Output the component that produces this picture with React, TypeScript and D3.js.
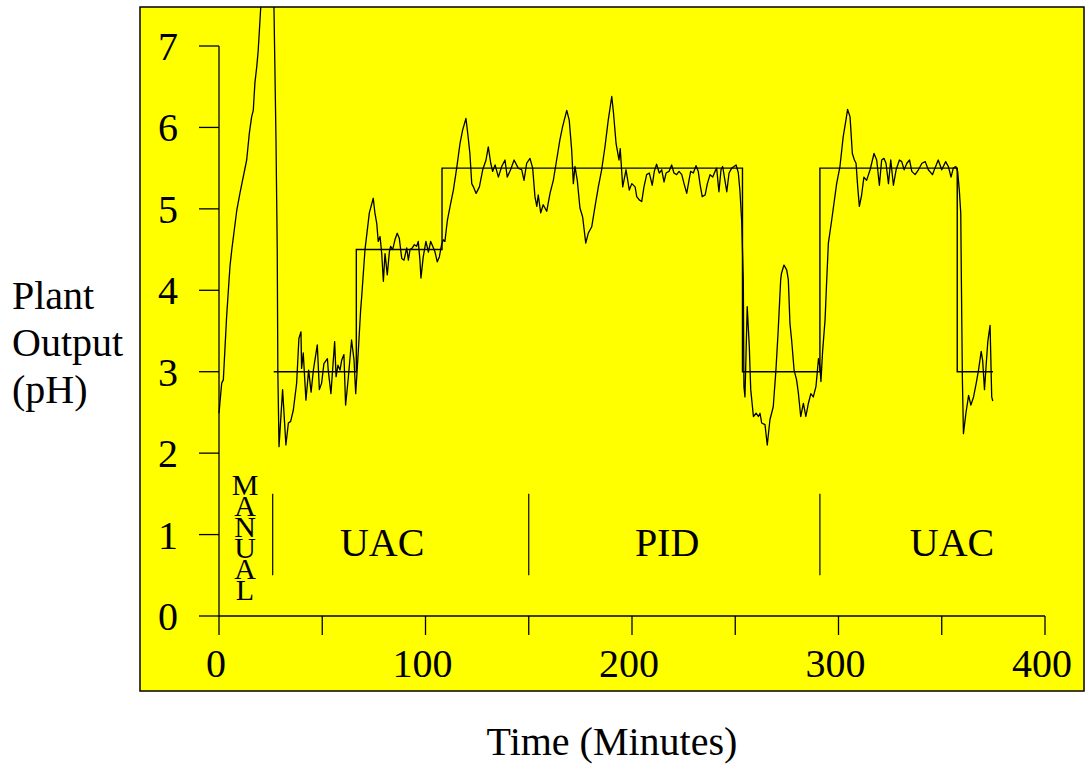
import React from 'react'
import * as d3 from 'd3'

// plant output (pH) vs time (minutes)
const outputTimes = [
  0, 1.3, 2.1, 3.7, 5.3, 6.2, 8.6, 10.2, 13.4, 14.7, 15.8, 16.6, 17.4, 18.3, 19, 20.2, 22.5, 24.5, 26.3, 27.6, 28.2, 28.5,
  29.06, 30.8, 32.4, 33.6, 34.7, 36, 37.6, 38.7, 39.7, 40, 40.8, 42.1, 43.4, 44.6, 45.7, 47.6, 48.6, 49.7, 50.8, 52.5, 52.9,
  54.2, 56, 56.7, 57.6, 58.6, 59.4, 60.5, 61.3, 62.6, 64.2, 65.4, 66.2, 67.5, 68.6, 69.1, 70.7, 72.8, 74.7, 75.5, 76.4, 77.1,
  78, 78.8, 79.6, 80.4, 81.5, 82.5, 83.1, 84.1, 85.2, 86.3, 87.3, 88.5, 89.6, 90.9, 91.7, 92.5, 93.6, 94.6, 95.7, 96.5, 97.3,
  97.8, 98.9, 100.2, 101.4, 102.5, 103.5, 104.6, 105.7, 106.7, 107.8, 108.6, 109.4, 110.6, 111.9, 113.5, 115.1, 116.7, 118,
  119.6, 120.7, 121.5, 122.4, 123.2, 124.5, 126.1, 127.7, 129.3, 130.4, 131.6, 132.5, 133.7, 135.3, 136.9, 138.5, 139.6,
  141.2, 142.9, 144.9, 146.6, 147.7, 149, 150.6, 151.9, 153, 153.9, 154.6, 155.8, 157, 158.7, 160.3, 161.9, 163.5, 165.1,
  166.4, 168.4, 169.6, 170.8, 171.6, 172.4, 173.5, 174.8, 176.1, 177.6, 178.8, 180.5, 182.1, 183.7, 185.3, 186.9, 188.5,
  190.2, 191, 192.3, 193.7, 194.3, 195.5, 197.1, 198.7, 199.9, 201.5, 202.3, 203.5, 204.7, 205.8, 207.1, 208.4, 209.8,
  210.8, 211.9, 213.2, 214.4, 215.5, 216.5, 217.9, 219.2, 220.3, 221.6, 222.8, 224.1, 225.2, 226.5, 227.6, 228.4, 229.7,
  231, 232.1, 232.9, 234, 235.4, 236.5, 237.8, 239.1, 240.2, 241, 242.1, 243.1, 243.9, 245, 245.9, 247, 248.3, 249.4,
  250.4, 251.5, 252.3, 253.1, 253.9, 254.2, 254.7, 255.8, 256.8, 257.5, 258.8, 260.1, 261.2, 262, 262.8, 264.4, 265.5,
  266.8, 268.4, 269.7, 270.8, 272, 272.4, 273.6, 274.9, 275.7, 276.5, 277.3, 278.5, 279.7, 280.6, 281.7, 283, 284.2,
  285.4, 286.6, 287.8, 289.1, 290.3, 291, 291.5, 292.3, 293.5, 294.3, 295.1, 296.7, 299.1, 300.7, 302.3, 303.6, 304.4,
  305.6, 306.7, 307.7, 308.5, 309.3, 310.1, 311.2, 312.3, 313.6, 315.3, 317.2, 318.5, 319.8, 320.9, 322, 323, 324.2,
  325.3, 326.6, 327.9, 329.5, 330.6, 331.8, 333.1, 334.4, 335.5, 337.1, 338.7, 340.4, 342, 343.5, 345.5, 346.7, 348.3,
  350, 351.9, 353.2, 354.5, 355.6, 356.8, 357.7, 358.5, 359.2, 359.5, 360, 360.5, 361.7, 363, 364.1, 365.4, 366.7, 367.8,
  369.1, 369.8, 370.7, 371.5, 372.3, 373.4, 374.2, 374.7
]
const outputPH = [
  2.49, 2.86, 2.9, 3.68, 4.29, 4.5, 4.98, 5.2, 5.6, 5.93, 6.13, 6.21, 6.55, 6.75, 6.95, 7.47, 8.3, 8.6, 8.0, 5.85, 4.5, 3.0,
  2.08, 2.78, 2.1, 2.37, 2.39, 2.53, 2.86, 3.41, 3.49, 3.04, 3.23, 2.65, 3.02, 2.75, 3.02, 3.33, 2.78, 2.86, 3.1, 3.16, 3.02,
  2.73, 3.37, 2.94, 3.08, 3.02, 3.14, 3.21, 2.59, 2.92, 3.39, 3.14, 2.73, 3.27, 3.76, 3.92, 4.5, 4.95, 5.13, 4.95, 4.82, 4.6,
  4.66, 4.45, 4.11, 4.45, 4.19, 4.47, 4.54, 4.5, 4.62, 4.7, 4.64, 4.39, 4.37, 4.52, 4.37, 4.5, 4.52, 4.56, 4.54, 4.6, 4.37,
  4.15, 4.41, 4.6, 4.47, 4.6, 4.54, 4.47, 4.35, 4.41, 4.56, 4.62, 4.6, 4.86, 5.03, 5.23, 5.5, 5.8, 5.97,
  6.11, 5.87, 5.68, 5.31, 5.27, 5.19, 5.27, 5.48, 5.6, 5.76, 5.56, 5.46, 5.54, 5.39, 5.52, 5.6, 5.39,
  5.48, 5.6, 5.5, 5.48, 5.35, 5.56, 5.62, 5.5, 5.15, 5.03, 5.17, 4.95, 5.05, 4.97, 5.19, 5.35, 5.6, 5.85,
  6.01, 6.21, 6.09, 5.72, 5.31, 5.52, 5.35, 5.01, 4.9, 4.58, 4.7, 4.78, 5.03, 5.27, 5.48, 5.76, 6.09,
  6.38, 6.19, 5.8, 5.6, 5.74, 5.27, 5.48, 5.23, 5.31, 5.27, 5.15, 5.11, 5.09, 5.27, 5.42, 5.44, 5.29,
  5.46, 5.55, 5.44, 5.48, 5.33, 5.44, 5.46, 5.54, 5.44, 5.42, 5.46, 5.42, 5.31, 5.19, 5.35, 5.46, 5.44,
  5.53, 5.46, 5.31, 5.15, 5.17, 5.31, 5.42, 5.39, 5.46, 5.5, 5.21, 5.48, 5.52, 5.35, 5.21, 5.44, 5.5, 5.52,
  5.54, 5.44, 5.21, 4.86, 4.13, 2.82, 2.69, 3.8, 3.31, 2.78, 2.45, 2.49, 2.45, 2.49, 2.37, 2.35, 2.1,
  2.41, 2.57, 3.02, 3.51, 4.13, 4.21, 4.31, 4.25, 4.13, 3.59, 3.39, 3.02, 2.9, 2.73, 2.45, 2.61, 2.45,
  2.61, 2.73, 2.69, 2.82, 3.16, 3.06, 2.88, 3.25, 3.64, 4.13, 4.58, 4.86, 5.31, 5.52, 5.89, 6.09, 6.22,
  6.13, 5.68, 5.6, 5.56, 5.27, 5.03, 5.17, 5.39, 5.35, 5.48, 5.68, 5.6, 5.29, 5.6, 5.62, 5.56, 5.31,
  5.6, 5.29, 5.48, 5.6, 5.58, 5.48, 5.56, 5.6, 5.46, 5.42, 5.48, 5.56, 5.58, 5.48, 5.42, 5.5, 5.6,
  5.48, 5.58, 5.52, 5.39, 5.5, 5.52, 5.46, 5.23, 4.95, 4.13, 2.9, 2.24, 2.49, 2.71, 2.59, 2.69, 2.86, 3.02,
  3.25, 3.14, 2.78, 3.08, 3.37, 3.57, 2.69, 2.64
]

// setpoint steps
const setpointTimes = [26.5, 66.5, 66.5, 108, 108, 253.5, 253.5, 291, 291, 357.5, 357.5, 374.8]
const setpointPH = [3, 3, 4.5, 4.5, 5.5, 5.5, 3, 3, 5.5, 5.5, 3, 3]

const xTicks = [0, 50, 100, 150, 200, 250, 300, 350, 400]
const xTickLabels = [0, 100, 200, 300, 400]
const yTicks = [0, 1, 2, 3, 4, 5, 6, 7]

const modeDividers = [26, 150, 291]
const modeNames = ['UAC', 'PID', 'UAC']
const modeCenters = [79, 217, 355]
const manualLetters = ['M', 'A', 'N', 'U', 'A', 'L']

const FONT = '"Liberation Serif", "Times New Roman", serif'

export default function App () {
  const width = 1089
  const height = 770
  const box = { x: 140, y: 7, w: 944, h: 684 }

  const x = d3.scaleLinear().domain([0, 400]).range([219, 1045])
  const y = d3.scaleLinear().domain([0, 7]).range([616, 46])

  const output = outputTimes.map((t, i) => [t, outputPH[i]])
  const setpoint = setpointTimes.map((t, i) => [t, setpointPH[i]])
  const line = d3.line().x(d => x(d[0])).y(d => y(d[1]))

  return (
    <svg width={width} height={height} style={{ position: 'absolute', left: 0, top: 0, background: '#fff' }}
      fontFamily={FONT}>
      <defs>
        <clipPath id='plotClip'>
          <rect x={box.x} y={box.y} width={box.w} height={box.h} />
        </clipPath>
      </defs>
      <rect x={box.x} y={box.y} width={box.w} height={box.h} fill='#ffff00' stroke='#000' strokeWidth={1.5} />

      {/* y axis */}
      <line x1={x(0)} x2={x(0)} y1={y(7)} y2={y(0)} stroke='#000' strokeWidth={1.3} />
      {yTicks.map(v => (
        <g key={'y' + v}>
          <line x1={x(0) - 20} x2={x(0)} y1={y(v)} y2={y(v)} stroke='#000' strokeWidth={1.3} />
          <text x={178} y={y(v)} dy='0.35em' textAnchor='end' fontSize={40}>{v}</text>
        </g>
      ))}

      {/* x axis */}
      <line x1={x(0)} x2={x(400)} y1={y(0)} y2={y(0)} stroke='#000' strokeWidth={1.3} />
      {xTicks.map(v => (
        <line key={'x' + v} x1={x(v)} x2={x(v)} y1={y(0)} y2={y(0) + 19} stroke='#000' strokeWidth={1.3} />
      ))}
      {xTickLabels.map(v => (
        <text key={'xl' + v} x={x(v) - 3} y={677} textAnchor='middle' fontSize={40}>{v}</text>
      ))}

      {/* mode annotations */}
      {modeDividers.map(t => (
        <line key={'d' + t} x1={x(t)} x2={x(t)} y1={y(1.5)} y2={y(0.5)} stroke='#000' strokeWidth={1.2} />
      ))}
      {modeNames.map((n, i) => (
        <text key={'m' + i} x={x(modeCenters[i])} y={y(0.74)} textAnchor='middle' fontSize={40}>{n}</text>
      ))}
      {manualLetters.map((c, i) => (
        <text key={'ml' + i} x={x(12.6)} y={y(1.49) + i * 21} textAnchor='middle' fontSize={30}>{c}</text>
      ))}

      <g clipPath='url(#plotClip)' fill='none' stroke='#000'>
        <path d={line(setpoint)} strokeWidth={1.4} />
        <path d={line(output)} strokeWidth={1.3} strokeLinejoin='round' />
      </g>

      {/* axis titles */}
      <text x={12} y={309} fontSize={40}>Plant</text>
      <text x={12} y={356} fontSize={40}>Output</text>
      <text x={12} y={403} fontSize={40}>(pH)</text>
      <text x={612} y={755} textAnchor='middle' fontSize={40}>Time (Minutes)</text>
    </svg>
  )
}
